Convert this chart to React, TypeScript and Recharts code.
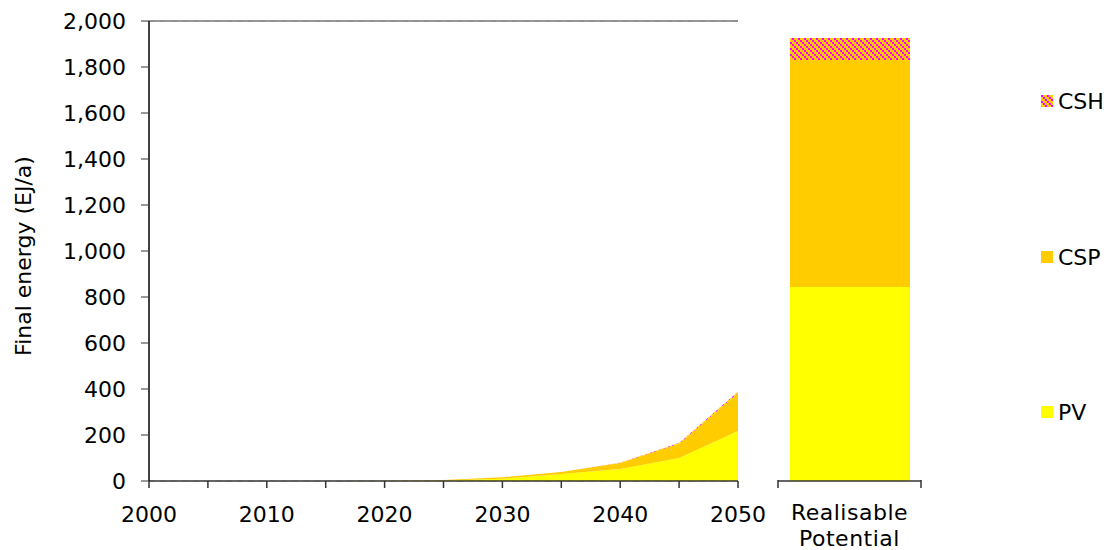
import React from 'react';
import {
  AreaChart, Area, BarChart, Bar, XAxis, YAxis, CartesianGrid, ReferenceLine,
} from 'recharts';

const years = [2000, 2005, 2010, 2015, 2020, 2025, 2030, 2035, 2040, 2045, 2050];
const pvValues = [0, 0, 0, 0, 0.5, 2, 10, 30, 52, 100, 217];
const cspValues = [0, 0, 0, 0, 0.5, 2, 6, 9, 26, 62, 166];
const cshValues = [0, 0, 0, 0, 0, 0, 0, 0.5, 1, 3, 5];

const potentialLabel = 'Realisable Potential';
const potentialPV = 843;
const potentialCSP = 987;
const potentialCSH = 96;

const yTicks = [0, 200, 400, 600, 800, 1000, 1200, 1400, 1600, 1800, 2000];
const xTicks = years;
const xLabelYears = [2000, 2010, 2020, 2030, 2040, 2050];

const series = [
  { key: 'CSH', name: 'CSH', fill: 'url(#cshPattern)' },
  { key: 'CSP', name: 'CSP', fill: '#FFCC00' },
  { key: 'PV', name: 'PV', fill: '#FFFF00' },
];

const areaData = years.map((y, i) => ({
  year: y,
  PV: pvValues[i],
  CSP: cspValues[i],
  CSH: cshValues[i],
}));

const barData = [{ name: potentialLabel, PV: potentialPV, CSP: potentialCSP, CSH: potentialCSH }];

const FONT = '"DejaVu Sans", Verdana, sans-serif';
const FS = 22;
const tickStyle = { fontFamily: FONT, fontSize: FS, fill: '#000' };

const PatternDefs = ({ id }: { id: string }) => (
  <defs>
    <pattern id={id} width="6" height="6" patternUnits="userSpaceOnUse">
      <rect x="0" y="0" width="6" height="6" fill="#FFCC00" />
      <rect x="0" y="0" width="2" height="2" fill="#FF00FF" />
      <rect x="2" y="2" width="2" height="2" fill="#FF00FF" />
      <rect x="4" y="4" width="2" height="2" fill="#FF00FF" />
    </pattern>
  </defs>
);

const LEFT_W = 790;
const H = 550;
const RIGHT_LEFT = 760;
const RIGHT_W = 180;
const RIGHT_ML = 18;
const RIGHT_MR = 19;
const HALF_BAND = (RIGHT_W - RIGHT_ML - RIGHT_MR) / 2;

const PotentialTick = (props: any) => {
  const { x, y, payload } = props;
  const words = String(payload.value).split(' ');
  return (
    <g>
      <line x1={x - HALF_BAND} y1={y - 1} x2={x - HALF_BAND} y2={y + 7} stroke="#333" strokeWidth={1.5} />
      <line x1={x + HALF_BAND} y1={y - 1} x2={x + HALF_BAND} y2={y + 7} stroke="#333" strokeWidth={1.5} />
      <text x={x} y={y + 39} textAnchor="middle" style={{ ...tickStyle, letterSpacing: 0.5 }}>
        <tspan x={x} dy={0}>{words[0]}</tspan>
        <tspan x={x} dy={26}>{words[1]}</tspan>
      </text>
    </g>
  );
};

const YLabel = (props: any) => {
  const vb = props.viewBox;
  const cx = 23;
  const cy = vb.y + vb.height / 2 + 5;
  return (
    <text
      x={cx}
      y={cy}
      transform={`rotate(-90 ${cx} ${cy})`}
      textAnchor="middle"
      dominantBaseline="central"
      style={{ fontFamily: FONT, fontSize: FS, fill: '#000' }}
    >
      Final energy (EJ/a)
    </text>
  );
};

export default function App() {
  return (
    <div style={{ position: 'fixed', left: 0, top: 0, width: 1110, height: 550, background: '#fff' }}>
      <div style={{ position: 'absolute', left: 0, top: 0 }}>
        <AreaChart width={LEFT_W} height={H} data={areaData} margin={{ top: 21, right: 52, bottom: 39, left: 0 }}>
          <PatternDefs id="cshPattern" />
          <CartesianGrid vertical={false} horizontal stroke="#c0c0c0" strokeDasharray="6 5" />
          <XAxis
            dataKey="year"
            type="number"
            domain={[2000, 2050]}
            ticks={xTicks}
            tickFormatter={(v: number) => (xLabelYears.includes(v) ? String(v) : '')}
            tick={tickStyle}
            tickLine={{ stroke: '#333', strokeWidth: 1.5 }}
            axisLine={{ stroke: '#333', strokeWidth: 1.5 }}
            tickSize={7}
            tickMargin={18}
            interval={0}
          />
          <YAxis
            yAxisId="left"
            width={149}
            domain={[0, 2000]}
            ticks={yTicks}
            tickFormatter={(v: number) => v.toLocaleString('en-US')}
            tick={tickStyle}
            tickLine={{ stroke: '#333' }}
            axisLine={{ stroke: '#000', strokeWidth: 1.5 }}
            tickSize={8}
            tickMargin={15}
            interval={0}
            label={<YLabel />}
          />
          <YAxis
            yAxisId="right"
            orientation="right"
            width={0}
            domain={[0, 2000]}
            tick={false}
            tickLine={false}
            axisLine={{ stroke: '#000', strokeWidth: 1.5 }}
          />
          <ReferenceLine yAxisId="left" y={2000} stroke="#777" strokeWidth={1.5} />
          <Area yAxisId="left" type="linear" dataKey="PV" stackId="a" stroke="none" fill="#FFFF00" fillOpacity={1} isAnimationActive={false} />
          <Area yAxisId="left" type="linear" dataKey="CSP" stackId="a" stroke="none" fill="#FFCC00" fillOpacity={1} isAnimationActive={false} />
          <Area yAxisId="left" type="linear" dataKey="CSH" stackId="a" stroke="none" fill="url(#cshPattern)" fillOpacity={1} isAnimationActive={false} />
        </AreaChart>
      </div>
      <div style={{ position: 'absolute', left: RIGHT_LEFT, top: 0 }}>
        <BarChart width={RIGHT_W} height={H} data={barData} margin={{ top: 21, right: RIGHT_MR, bottom: 39, left: RIGHT_ML }}>
          <PatternDefs id="cshPattern2" />
          <XAxis
            dataKey="name"
            type="category"
            tick={<PotentialTick />}
            tickLine={false}
            tickSize={0}
            tickMargin={0}
            axisLine={{ stroke: '#333', strokeWidth: 1.5 }}
            interval={0}
          />
          <YAxis hide domain={[0, 2000]} />
          <Bar dataKey="PV" stackId="b" fill="#FFFF00" barSize={120} isAnimationActive={false} />
          <Bar dataKey="CSP" stackId="b" fill="#FFCC00" barSize={120} isAnimationActive={false} />
          <Bar dataKey="CSH" stackId="b" fill="url(#cshPattern2)" barSize={120} isAnimationActive={false} />
        </BarChart>
      </div>
      {series.map((s, i) => (
        <div
          key={s.key}
          style={{
            position: 'absolute',
            left: 1041,
            top: [86, 242, 397][i],
            display: 'flex',
            alignItems: 'center',
            fontFamily: FONT,
            fontSize: FS,
            color: '#000',
            height: 30,
          }}
        >
          <svg width={12} height={12} style={{ marginRight: 5 }}>
            <PatternDefs id={`legendPat${i}`} />
            <rect x={0} y={0} width={12} height={12} fill={s.key === 'CSH' ? `url(#legendPat${i})` : s.fill} />
          </svg>
          <span>{s.name}</span>
        </div>
      ))}
    </div>
  );
}
